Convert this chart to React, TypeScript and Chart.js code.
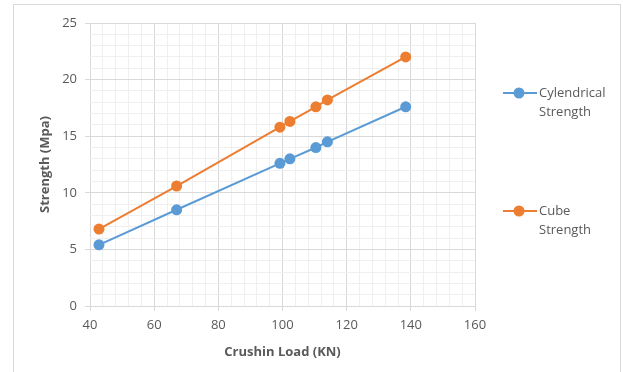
import React, { useEffect, useRef } from "react";
import { Chart, registerables } from "chart.js";

Chart.register(...registerables);

const crushingLoad = [42.8, 67, 99.2, 102.3, 110.4, 114, 138.4];
const cylindricalStrength = [5.4, 8.5, 12.6, 13.0, 14.0, 14.5, 17.6];
const cubeStrength = [6.8, 10.6, 15.8, 16.3, 17.6, 18.2, 22.0];
const seriesNames = [["Cylendrical", "Strength"], ["Cube", "Strength"]];
const xTitle = "Crushin Load (KN)";
const yTitle = "Strength (Mpa)";

const BLUE = "#5b9bd5";
const ORANGE = "#ed7d31";
const FONT = "'Open Sans', 'Liberation Sans', sans-serif";

const decorPlugin = {
  id: "decor",
  beforeDraw(chart: any) {
    const { ctx } = chart;
    ctx.save();
    ctx.fillStyle = "#ffffff";
    ctx.fillRect(0, 0, chart.width, chart.height);
    ctx.strokeStyle = "#d9d9d9";
    ctx.lineWidth = 1;
    ctx.strokeRect(13.5, 4.5, 607, 400);
    ctx.restore();
  },
  afterDraw(chart: any) {
    const { ctx } = chart;
    const ys = [93, 211];
    ctx.save();
    chart.data.datasets.forEach((ds: any, i: number) => {
      const y = ys[i];
      ctx.strokeStyle = ds.borderColor;
      ctx.lineWidth = 2;
      ctx.beginPath();
      ctx.moveTo(503, y);
      ctx.lineTo(537, y);
      ctx.stroke();
      ctx.fillStyle = ds.backgroundColor;
      ctx.beginPath();
      ctx.arc(519, y, 5.5, 0, Math.PI * 2);
      ctx.fill();
      ctx.fillStyle = "#595959";
      ctx.font = `13px ${FONT}`;
      ctx.textBaseline = "middle";
      ctx.textAlign = "left";
      seriesNames[i].forEach((t, j) => ctx.fillText(t, 539, y + j * 19));
    });
    ctx.restore();
  },
};

export default function App() {
  const ref = useRef<HTMLCanvasElement>(null);
  useEffect(() => {
    document.body.style.margin = "0";
    const canvas = ref.current!;
    const major = (v: number, m: number) => Math.abs(v % m) < 1e-6;
    const chart = new Chart(canvas, {
      type: "scatter",
      data: {
        datasets: [
          {
            label: seriesNames[0].join(" "),
            data: crushingLoad.map((x, i) => ({ x, y: cylindricalStrength[i] })),
            borderColor: BLUE,
            backgroundColor: BLUE,
            showLine: true,
            borderWidth: 2,
            pointRadius: 5.5,
            pointBorderWidth: 0,
          },
          {
            label: seriesNames[1].join(" "),
            data: crushingLoad.map((x, i) => ({ x, y: cubeStrength[i] })),
            borderColor: ORANGE,
            backgroundColor: ORANGE,
            showLine: true,
            borderWidth: 2,
            pointRadius: 5.5,
            pointBorderWidth: 0,
          },
        ],
      },
      plugins: [decorPlugin],
      options: {
        responsive: false,
        animation: false,
        devicePixelRatio: 1,
        layout: { padding: { left: 0, top: 23, right: 148, bottom: 0 } },
        plugins: { legend: { display: false }, tooltip: { enabled: false } },
        scales: {
          x: {
            type: "linear",
            min: 40,
            max: 160,
            afterFit: (s: any) => { s.height = 66; },
            ticks: {
              stepSize: 4,
              autoSkip: false,
              maxRotation: 0,
              padding: 6,
              color: "#595959",
              font: { family: FONT, size: 13 },
              callback: (v: any) => (major(Number(v), 20) ? String(v) : ""),
            },
            grid: {
              color: (c: any) => (major(c.tick.value, 20) ? "#d9d9d9" : "#efefef"),
              tickColor: (c: any) => (major(c.tick.value, 20) ? "#d9d9d9" : "rgba(0,0,0,0)"),
              tickLength: 5,
            },
            border: { display: false },
            title: {
              display: true,
              text: xTitle,
              color: "#595959",
              font: { family: FONT, size: 13, weight: "bold" },
              padding: { top: 0, bottom: 12 },
            },
          },
          y: {
            min: 0,
            max: 25,
            afterFit: (s: any) => { s.width = 90; },
            ticks: {
              stepSize: 1,
              autoSkip: false,
              padding: 8,
              color: "#595959",
              font: { family: FONT, size: 13 },
              callback: (v: any) => (major(Number(v), 5) ? String(v) : ""),
            },
            grid: {
              color: (c: any) => (major(c.tick.value, 5) ? "#d9d9d9" : "#efefef"),
              tickColor: (c: any) => (major(c.tick.value, 5) ? "#d9d9d9" : "rgba(0,0,0,0)"),
              tickLength: 5,
            },
            border: { display: false },
            title: {
              display: true,
              text: yTitle,
              color: "#595959",
              font: { family: FONT, size: 13, weight: "bold" },
              padding: { top: 37, bottom: 0 },
            },
          },
        },
      },
    } as any);
    return () => chart.destroy();
  }, []);
  return <canvas ref={ref} width={623} height={372} style={{ display: "block" }} />;
}
